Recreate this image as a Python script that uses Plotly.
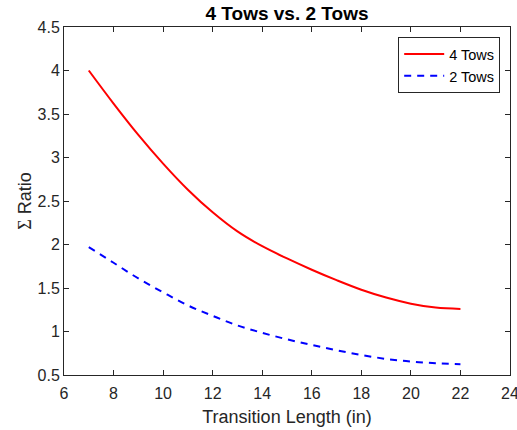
import plotly.graph_objects as go

transition_length = [7, 8, 9, 10, 11, 12, 13, 14, 15, 16, 17, 18, 19, 20, 21, 22]
ratio_4_tows = [4.0, 3.62, 3.26, 2.93, 2.63, 2.37, 2.15, 1.98, 1.84, 1.71, 1.59, 1.48, 1.39, 1.32, 1.275, 1.26]
ratio_2_tows = [1.97, 1.79, 1.61, 1.45, 1.30, 1.18, 1.07, 0.985, 0.91, 0.845, 0.785, 0.73, 0.685, 0.655, 0.635, 0.625]

x_ticks = [6, 8, 10, 12, 14, 16, 18, 20, 22, 24]
y_ticks = [0.5, 1, 1.5, 2, 2.5, 3, 3.5, 4, 4.5]

TXT = "#262626"
FONT = "Liberation Sans, Arial, sans-serif"

fig = go.Figure()
fig.add_trace(go.Scatter(x=transition_length, y=ratio_4_tows, mode="lines", name="4 Tows",
                         line=dict(color="#FF0000", width=2, shape="spline")))
fig.add_trace(go.Scatter(x=transition_length, y=ratio_2_tows, mode="lines", name="2 Tows",
                         line=dict(color="#0000FF", width=2, dash="7px,6px", shape="spline")))

axis_common = dict(showgrid=False, zeroline=False, showline=True, linecolor=TXT, linewidth=1,
                   mirror="ticks", ticks="inside", ticklen=5, tickwidth=1, tickcolor=TXT,
                   ticklabeloverflow="allow", automargin=False,
                   tickfont=dict(family=FONT, size=16, color=TXT))

fig.update_xaxes(range=[6, 24], tickvals=x_ticks, ticktext=[str(v) for v in x_ticks],
                 ticklabelstandoff=4,
                 title=dict(text="Transition Length (in)", font=dict(family=FONT, size=18, color=TXT), standoff=9),
                 **axis_common)
fig.update_yaxes(range=[0.5, 4.5], tickvals=y_ticks, ticktext=[f"{v:g}" for v in y_ticks],
                 title=dict(text="<span style='font-family:Liberation Serif, Times New Roman, serif'>Σ</span> Ratio",
                            font=dict(family=FONT, size=18, color=TXT), standoff=1),
                 **axis_common)

fig.update_layout(
    width=517, height=430,
    margin=dict(l=64, r=7, t=27, b=55),
    paper_bgcolor="white", plot_bgcolor="white",
    title=dict(text="<b>4 Tows vs. 2 Tows</b>", x=0.5, xref="paper", xanchor="center",
               y=1 - 13 / 430, yanchor="middle", font=dict(family=FONT, size=19, color="#000000")),
    legend=dict(x=0.978, y=0.971, xanchor="right", yanchor="top", bgcolor="white",
                bordercolor=TXT, borderwidth=1, font=dict(family=FONT, size=14.5, color="#000000"),
                itemwidth=40, tracegroupgap=0),
    showlegend=True,
)

fig.write_html("out.html")
